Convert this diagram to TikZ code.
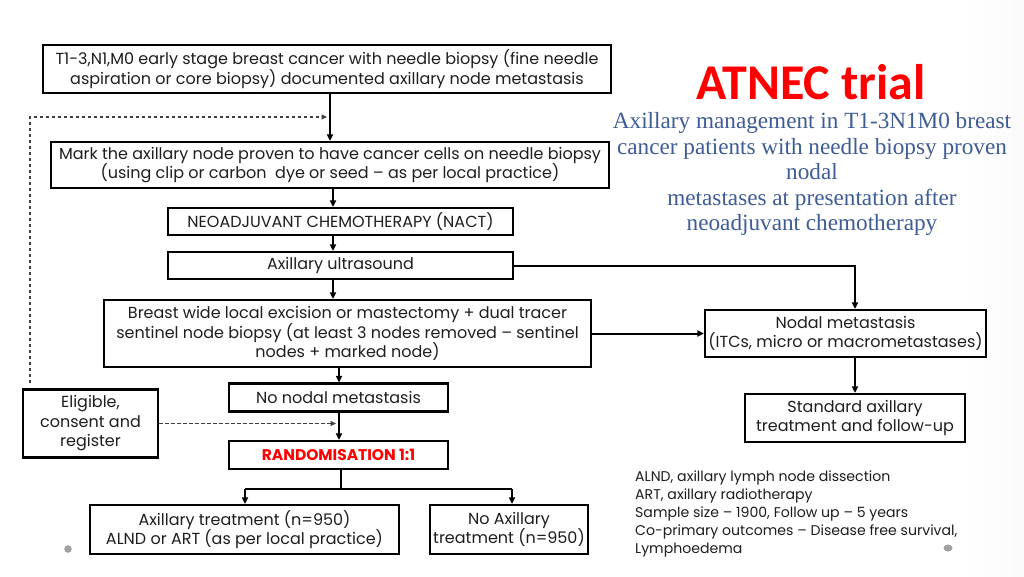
\documentclass[tikz,border=0pt]{standalone}
\usepackage{fontspec}
\setmainfont{Poppins}
\newfontfamily\titlefont{Carlito}
\newfontfamily\subfont{Liberation Serif}
\usetikzlibrary{arrows.meta,calc}
\definecolor{subblue}{RGB}{62,92,150}
\definecolor{txt}{RGB}{30,30,30}
\definecolor{dotgray}{RGB}{160,160,160}
\pgfdeclarehorizontalshading{bgshade}{100bp}{rgb(0bp)=(0.80,0.80,0.80); rgb(12bp)=(0.96,0.96,0.96); rgb(25bp)=(1,1,1); rgb(72bp)=(1,1,1); rgb(100bp)=(0.84,0.84,0.84)}
\begin{document}
\begin{tikzpicture}[x=1pt,y=-1pt,
  box/.style={draw=black,line width=2.2pt,fill=white,inner sep=0pt,align=center,
    font=\fontsize{16}{19.5}\selectfont,text=txt},
  arr/.style={line width=2pt,-{Triangle[length=6.5pt,width=6pt]}},
  ln/.style={line width=2pt},
  dsh/.style={line width=1.2pt,draw=black!75,dash pattern=on 3.5pt off 2.5pt,-{Triangle[length=5.5pt,width=5pt]}},
  notes/.style={font=\fontsize{14.1}{18}\selectfont,text=txt,align=left,inner sep=0pt}]
\useasboundingbox (0,0) rectangle (1024,576);
\shade[shading=bgshade] (0,0) rectangle (1024,576);
% coordinates for trunks
\coordinate (xa) at (330,0);
\coordinate (xb) at (333,0);
\coordinate (xc) at (339,0);
\coordinate (xn) at (855,0);
\coordinate (dl) at (30,0);
% boxes
\node[box,minimum width=568pt,minimum height=48pt] (b1) at (327,69)
  {T1-3,N1,M0 early stage breast cancer with needle biopsy (fine needle\\aspiration or core biopsy) documented axillary node metastasis};
\node[box,minimum width=558pt,minimum height=46pt] (b2) at (330,165)
  {Mark the axillary node proven to have cancer cells on needle biopsy\\(using clip or carbon\ \ dye or seed -- as per local practice)};
\node[box,minimum width=345pt,minimum height=27pt] (b3) at (340.5,221.5)
  {NEOADJUVANT CHEMOTHERAPY (NACT)};
\node[box,minimum width=345pt,minimum height=27pt] (b4) at (340.5,265.5)
  {Axillary ultrasound};
\node[box,minimum width=487pt,minimum height=67pt] (b5) at (347.5,333.5)
  {Breast wide local excision or mastectomy + dual tracer\\sentinel node biopsy (at least 3 nodes removed -- sentinel\\nodes + marked node)};
\node[box,minimum width=281pt,minimum height=47pt] (nodal) at (845.5,333.5)
  {Nodal metastasis\\(ITCs, micro or macrometastases)};
\node[box,minimum width=220pt,minimum height=48pt] (std) at (855,418)
  {Standard axillary\\treatment and follow-up};
\node[box,minimum width=219pt,minimum height=28pt] (nonodal) at (338.5,397.5)
  {No nodal metastasis};
\node[box,fill=none,minimum width=135pt,minimum height=68pt] (elig) at (90.5,423.5)
  {Eligible,\\consent and\\register};
\node[box,minimum width=219pt,minimum height=28pt,text=red,font=\fontsize{15.5}{19}\selectfont\bfseries] (rand) at (338.5,455)
  {RANDOMISATION 1:1};
\node[box,minimum width=309pt,minimum height=49pt] (axt) at (244.5,529.5)
  {Axillary treatment (n=950)\\ALND or ART (as per local practice)};
\node[box,minimum width=158pt,minimum height=49pt] (noax) at (509,529.5)
  {No Axillary\\treatment (n=950)};
% title
\node[font=\titlefont\fontsize{50}{50}\selectfont\bfseries,text=red,inner sep=0pt,anchor=base] (title) at (811,99) {ATNEC trial};
\node[font=\subfont\fontsize{23.2}{25.5}\selectfont,text=subblue,align=center,inner sep=0pt] (sub) at (812,174)
  {Axillary management in T1-3N1M0 breast\\cancer patients with needle biopsy proven\\nodal\\metastases at presentation after\\neoadjuvant chemotherapy};
% notes
\node[notes,anchor=north west] (notes) at (635,471)
  {ALND, axillary lymph node dissection\\ART, axillary radiotherapy\\Sample size -- 1900, Follow up -- 5 years\\Co-primary outcomes -- Disease free survival,\\Lymphoedema};
% dots
\fill[dotgray] (68,549) circle (3.8pt);
\fill[dotgray] (948,548) ellipse (4.5pt and 3.5pt);
% connectors
\draw[arr] (b1.south -| xa) -- (b2.north -| xa);
\draw[arr] (b2.south -| xb) -- (b3.north -| xb);
\draw[arr] (b3.south -| xb) -- (b4.north -| xb);
\draw[arr] (b4.south -| xb) -- (b5.north -| xb);
\draw[arr] (b5.south -| xc) -- (nonodal.north -| xc);
\draw[arr] (nonodal.south -| xc) -- (rand.north -| xc);
\draw[arr] (b4.east) -| (nodal.north -| xn);
\draw[arr] (b5.east) -- (nodal.west |- b5.east);
\draw[arr] (nodal.south -| xn) -- (std.north -| xn);
\coordinate (dtop) at (30,117);
\coordinate (dend) at (327,117);
\draw[dsh] ($(elig.north -| dl)+(0,-5)$) -- (dtop) -- (dend);
\coordinate (dmid) at (336,423.5);
\draw[dsh] (elig.east) -- (dmid);
\coordinate (split) at (341,489);
\coordinate (sl) at (245,489);
\coordinate (sr) at (512,489);
\draw[ln] (rand.south -| split) -- (split);
\draw[ln] (sl) -- (sr);
\draw[arr] (sl) -- (axt.north -| sl);
\draw[arr] (sr) -- (noax.north -| sr);
\end{tikzpicture}
\end{document}
